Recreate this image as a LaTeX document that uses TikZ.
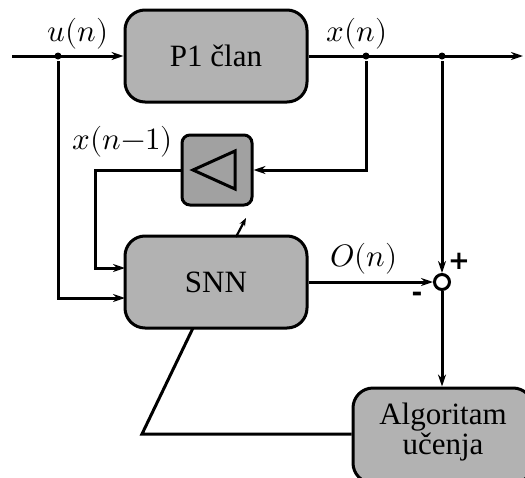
\documentclass[tikz,border=0pt]{standalone}
\usepackage{fontspec}
\setmainfont{Liberation Serif}
\newfontfamily\signfont{DejaVu Sans}
\usepackage{unicode-math}
\setmathfont{Latin Modern Math}
\usetikzlibrary{arrows.meta}
\begin{document}
\begin{tikzpicture}[x=1pt,y=-1pt,
  line width=3pt,
  >={Stealth[length=12pt,width=8pt]},
  block/.style={draw, rounded corners=20pt, fill=black!30, font=\fontsize{31}{34}\selectfont, align=center, inner sep=0pt},
  lbl/.style={font=\fontsize{31}{34}\selectfont, inner sep=0pt},
  sgn/.style={font=\signfont\bfseries\fontsize{26}{28}\selectfont, inner sep=0pt},
  dot/.style={circle, fill, inner sep=0pt, minimum size=7pt}]
\useasboundingbox (0,0) rectangle (525,477);
% blocks
\node[block, minimum width=182pt, minimum height=92pt] (p1) at (216,56) {P1 član};
\node[block, minimum width=182pt, minimum height=92pt] (snn) at (216,282) {SNN};
\node[draw, rounded corners=8pt, fill=black!37, minimum width=70pt, minimum height=70pt, inner sep=0pt] (del) at (217,170) {};
\node[block, minimum width=180pt, minimum height=95pt] (alg) at (443,435.5) {};
\node[lbl, align=center] (algt) at (443,432) {Algoritam\\[-4pt]učenja};
% triangle in delay
\draw[line join=miter] (193,170) -- (235,151) -- (235,189) -- cycle;
% coordinates
\coordinate (in) at (12,56);
\coordinate (j1) at (58,56);
\coordinate (j2) at (366,56);
\coordinate (j3) at (442,56);
\coordinate (out) at (523,56);
\node[draw, circle, fill=white, minimum size=15pt, inner sep=0pt] (sum) at (442,282) {};
% top line
\draw[->] (in) -- (p1.west);
\draw[->] (p1.east) -- (out);
\node[dot] (d1) at (j1) {};
\node[dot] (d2) at (j2) {};
\node[dot] (d3) at (j3) {};
% u(n) branch into SNN
\draw[->] (d1) |- (125,298);
% x(n) to delay
\draw[->] (d2) |- (del.east);
% delay to SNN
\coordinate (c1) at (95,170);
\draw[->] (del.west) -- (c1) |- (125,268);
% adaptive arrow
\coordinate (a1) at (236,237);
\coordinate (a2) at (246,218);
\draw[->, line width=2.2pt, >={Stealth[length=8pt,width=6pt]}] (a1) -- (a2);
% SNN output to sum
\draw[->] (snn.east) -- (sum.west);
\draw[->] (d3) -- (sum.north);
\draw[->] (sum.south) -- (alg.north -| sum);
% learning feedback
\coordinate (c2) at (142,434);
\draw (193,328) -- (c2) -- (alg.west |- c2);
% labels
\node[lbl] (lu) at (78,34) {$u(n)$};
\node[lbl] (lx) at (357,34) {$x(n)$};
\node[lbl] (lx1) at (123,142) {$x(n{-}1)$};
\node[lbl] (lo) at (364,259) {$O(n)$};
\node[sgn] (plus) at (459,261) {+};
\node[sgn] (minus) at (417,297) {-};
\end{tikzpicture}
\end{document}
